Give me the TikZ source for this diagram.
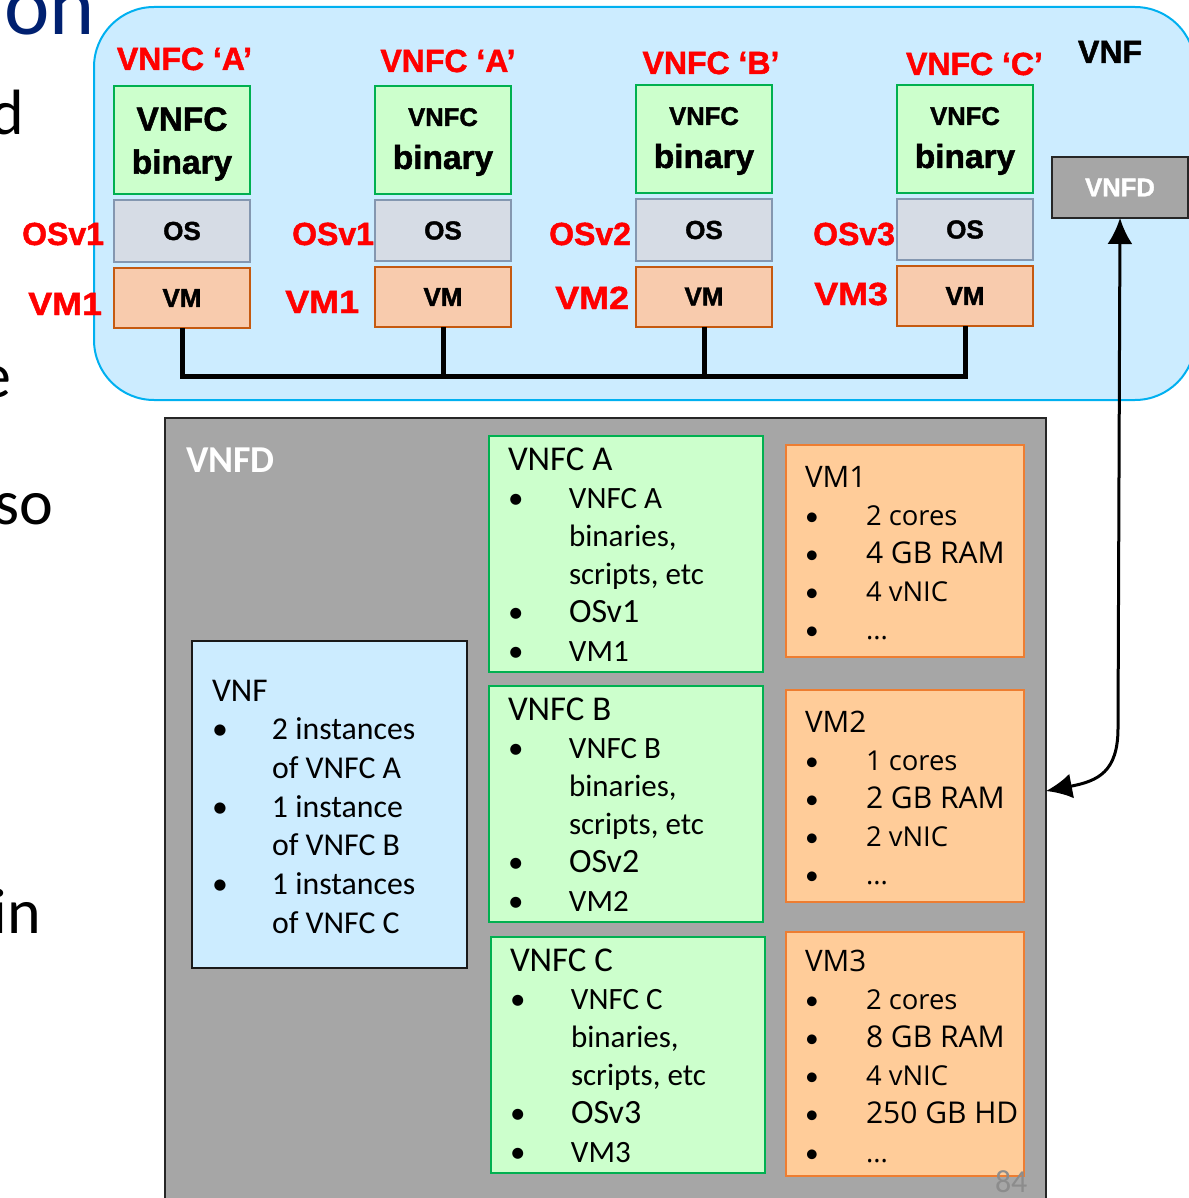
\documentclass[tikz,border=0pt]{standalone}
\usepackage{fontspec}
\setmainfont{Carlito}
\newfontfamily\arb{Liberation Sans}[BoldFeatures={FakeBold=1.5}]
\newfontfamily\arbw{Liberation Sans}[FakeStretch=1.12,BoldFeatures={FakeBold=1.5}]
\newfontfamily\segoe{Open Sans}
\usetikzlibrary{arrows.meta}
\definecolor{vnfblue}{HTML}{CCECFF}
\definecolor{vnfborder}{HTML}{00B0F0}
\definecolor{gfill}{HTML}{CCFFCC}
\definecolor{gline}{HTML}{00B050}
\definecolor{osfill}{HTML}{D6DCE5}
\definecolor{osline}{HTML}{8497B0}
\definecolor{vmfill}{HTML}{F8CBAD}
\definecolor{vmline}{HTML}{C55A11}
\definecolor{ofill}{HTML}{FFCC99}
\definecolor{oline}{HTML}{ED7D31}
\definecolor{gbg}{HTML}{A6A6A6}
\definecolor{navy}{HTML}{002070}
\definecolor{pgray}{HTML}{8C8C8C}
\newcommand\vbul{{\normalfont•}}
\tikzset{
  vnfbg/.style={draw=vnfborder, line width=1pt, fill=vnfblue, rounded corners=30pt,
    minimum width=550.5pt, minimum height=196.5pt},
  binbox/.style={draw=gline, fill=gfill, line width=1pt, minimum width=68pt,
    minimum height=54pt, align=center, font=\arb\bfseries\fontsize{16.7}{21.5}\selectfont},
  osbox/.style={draw=osline, fill=osfill, line width=1pt, minimum width=68pt,
    minimum height=30.5pt, font=\arb\bfseries\fontsize{13}{15}\selectfont},
  vmbox/.style={draw=vmline, fill=vmfill, line width=1pt, minimum width=68pt,
    minimum height=30pt, font=\arb\bfseries\fontsize{13}{15}\selectfont},
  redlab/.style={text=red, font=\arb\bfseries\fontsize{16}{19}\selectfont},
  redvm/.style={text=red, font=\arbw\bfseries\fontsize{16}{19}\selectfont},
  bus/.style={line width=2.5pt},
  descbox/.style={draw=black!85, line width=0.8pt, fill=gbg},
  vnfbox/.style={draw=black!90, line width=0.8pt, fill=vnfblue},
  gbox/.style={draw=gline, line width=1.2pt, fill=gfill},
  obox/.style={draw=oline, line width=1.2pt, fill=ofill},
  listtxt/.style={anchor=base west, font=\fontsize{15.5}{19.1}\selectfont},
  vmtxt/.style={anchor=base west, font=\segoe\fontsize{13.7}{19.1}\selectfont},
  frag/.style={anchor=base east, font=\fontsize{32}{38}\selectfont},
  dbl/.style={line width=1.5pt, {Latex[length=13pt,width=12.5pt]}-{Latex[length=13pt,width=12.5pt]}},
}
\begin{document}
\begin{tikzpicture}[x=0.5pt, y=-0.5pt, inner sep=0pt, outer sep=0pt]
\useasboundingbox (0,0) rectangle (1188,1198);

% slide text fragments at left edge
\node[frag, text=navy, font=\fontsize{43}{50}\selectfont] (fon) at (95,35) {on};
\node[frag] (fd) at (24,135) {d};
\node[frag] (fe) at (11,397) {e};
\node[frag] (fso) at (53,524) {so};
\node[frag] (fin) at (41,933) {in};

% VNF container
\node[vnfbg] (vnf) at (644.5,203.5) {};
\node[anchor=base west, font=\arb\bfseries\fontsize{16}{19}\selectfont] (vnflab) at (1078,63) {VNF};

% stacks
\node[draw=gline, fill=gfill, line width=1pt, minimum width=68pt, minimum height=54pt] (bin1) at (182,140) {};
\node[draw=gline, fill=gfill, line width=1pt, minimum width=68pt, minimum height=54pt] (bin2) at (443,140) {};
\node[draw=gline, fill=gfill, line width=1pt, minimum width=68pt, minimum height=54pt] (bin3) at (704,139) {};
\node[draw=gline, fill=gfill, line width=1pt, minimum width=68pt, minimum height=54pt] (bin4) at (965,139) {};
\node[align=center, font=\arb\bfseries\fontsize{16.7}{21.5}\selectfont] (bin1t) at (182,144) {VNFC\\binary};
\node[align=center, font=\arb\bfseries\fontsize{16.7}{21.5}\selectfont] (bin2t) at (443,142) {{\fontsize{12.8}{21.5}\selectfont VNFC}\\binary};
\node[align=center, font=\arb\bfseries\fontsize{16.7}{21.5}\selectfont] (bin3t) at (704,141) {{\fontsize{12.8}{21.5}\selectfont VNFC}\\binary};
\node[align=center, font=\arb\bfseries\fontsize{16.7}{21.5}\selectfont] (bin4t) at (965,141) {{\fontsize{12.8}{21.5}\selectfont VNFC}\\binary};
\node[osbox] (os1) at (182,231) {OS};
\node[osbox] (os2) at (443,230.5) {OS};
\node[osbox] (os3) at (704,230) {OS};
\node[osbox] (os4) at (965,229.5) {OS};
\node[vmbox] (vm1) at (182,298) {VM};
\node[vmbox] (vm2) at (443,297) {VM};
\node[vmbox] (vm3) at (704,296.5) {VM};
\node[vmbox] (vm4) at (965,296) {VM};

% red labels
\node[redlab, anchor=base] (l1) at (184.5,70) {VNFC ‘A’};
\node[redlab, anchor=base] (l2) at (448,72) {VNFC ‘A’};
\node[redlab, anchor=base] (l3) at (711,74) {VNFC ‘B’};
\node[redlab, anchor=base] (l4) at (974.5,75) {VNFC ‘C’};
\node[redlab, anchor=base east] (o1) at (104,245) {OSv1};
\node[redlab, anchor=base east] (o2) at (374,245) {OSv1};
\node[redlab, anchor=base east] (o3) at (631,245) {OSv2};
\node[redlab, anchor=base east] (o4) at (895,245) {OSv3};
\node[redvm, anchor=base east] (v1) at (102,315) {VM1};
\node[redvm, anchor=base east] (v2) at (359,313) {VM1};
\node[redvm, anchor=base east] (v3) at (629,309) {VM2};
\node[redvm, anchor=base east] (v4) at (888,305) {VM3};

% bus
\coordinate (busy) at (0,376);
\draw[bus] (vm1.south) |- (vm4.south|-busy) -- (vm4.south);
\draw[bus] (vm2.south) -- (vm2.south|-busy);
\draw[bus] (vm3.south) -- (vm3.south|-busy);

% small VNFD
\node[draw=black!85, line width=1pt, fill=gbg, minimum width=68pt, minimum height=30.5pt,
  text=white, font=\arb\bfseries\fontsize{12.8}{15}\selectfont] (vnfdS) at (1120,187.5) {VNFD};

% big VNFD
\node[descbox, minimum width=440.5pt, minimum height=396pt] (vnfdB) at (605.5,814) {};
\node[anchor=base west, text=white, font=\bfseries\fontsize{19}{22}\selectfont] (vnfdBlab) at (186,472) {VNFD};

% VNF box
\node[vnfbox, minimum width=137.5pt, minimum height=163.5pt] (vnfb) at (329.5,804.5) {};
\node[listtxt, font=\fontsize{15.9}{19.35}\selectfont] (vnfbt) at (212,701) {\begin{tabular}[t]{@{}p{30pt}@{}l@{}}
\multicolumn{2}{@{}l@{}}{\fontsize{16.6}{19.35}\selectfont VNF}\\
•&2 instances\\
&of VNFC A\\
•&1 instance\\
&of VNFC B\\
•&1 instances\\
&of VNFC C\end{tabular}};

% VNFC boxes
\node[gbox, minimum width=137pt, minimum height=118pt] (ga) at (626,554) {};
\node[gbox, minimum width=137pt, minimum height=118pt] (gb) at (626,804) {};
\node[gbox, minimum width=137pt, minimum height=118pt] (gc) at (628,1055) {};
\node[listtxt] (gat) at (508,470) {\begin{tabular}[t]{@{}p{30.5pt}@{}l@{}}
\multicolumn{2}{@{}l@{}}{\fontsize{17.4}{19.1}\selectfont VNFC A}\\
•&VNFC A\\
&binaries,\\
&scripts, etc\\
•&{\fontsize{17}{19.1}\selectfont OSv1}\\
•&VM1\end{tabular}};
\node[listtxt] (gbt) at (508,720) {\begin{tabular}[t]{@{}p{30.5pt}@{}l@{}}
\multicolumn{2}{@{}l@{}}{\fontsize{17.4}{19.1}\selectfont VNFC B}\\
•&VNFC B\\
&binaries,\\
&scripts, etc\\
•&{\fontsize{17}{19.1}\selectfont OSv2}\\
•&VM2\end{tabular}};
\node[listtxt] (gct) at (510,971) {\begin{tabular}[t]{@{}p{30.5pt}@{}l@{}}
\multicolumn{2}{@{}l@{}}{\fontsize{17.4}{19.1}\selectfont VNFC C}\\
•&VNFC C\\
&binaries,\\
&scripts, etc\\
•&{\fontsize{17}{19.1}\selectfont OSv3}\\
•&VM3\end{tabular}};

% VM boxes
\node[obox, minimum width=119pt, minimum height=106pt] (ova) at (905,551) {};
\node[obox, minimum width=119pt, minimum height=106pt] (ovb) at (905,796) {};
\node[obox, minimum width=119pt, minimum height=122pt] (ovc) at (905,1054) {};
\node[vmtxt] (ovat) at (805,487) {\begin{tabular}[t]{@{}p{30.5pt}@{}l@{}}
\multicolumn{2}{@{}l@{}}{\fontsize{14.8}{19.1}\selectfont VM1}\\
\vbul&2 cores\\
\vbul&{\fontsize{15}{19.1}\selectfont 4 GB RAM}\\
\vbul&4 vNIC\\
\vbul&...\end{tabular}};
\node[vmtxt] (ovbt) at (805,732) {\begin{tabular}[t]{@{}p{30.5pt}@{}l@{}}
\multicolumn{2}{@{}l@{}}{\fontsize{14.8}{19.1}\selectfont VM2}\\
\vbul&1 cores\\
\vbul&{\fontsize{15}{19.1}\selectfont 2 GB RAM}\\
\vbul&2 vNIC\\
\vbul&...\end{tabular}};
\node[vmtxt] (ovct) at (805,971) {\begin{tabular}[t]{@{}p{30.5pt}@{}l@{}}
\multicolumn{2}{@{}l@{}}{\fontsize{14.8}{19.1}\selectfont VM3}\\
\vbul&2 cores\\
\vbul&{\fontsize{15}{19.1}\selectfont 8 GB RAM}\\
\vbul&4 vNIC\\
\vbul&{\fontsize{15}{19.1}\selectfont 250 GB HD}\\
\vbul&...\end{tabular}};

% arrow
\coordinate (tipB) at (1046,791);
\draw[dbl] (vnfdS.south) -- (1118,728) .. controls (1118,772) and (1098,781) .. (tipB);

% page number
\node[anchor=base west, text=pgray, font=\fontsize{16}{19}\selectfont] (pg) at (995,1192) {84};
\end{tikzpicture}
\end{document}
